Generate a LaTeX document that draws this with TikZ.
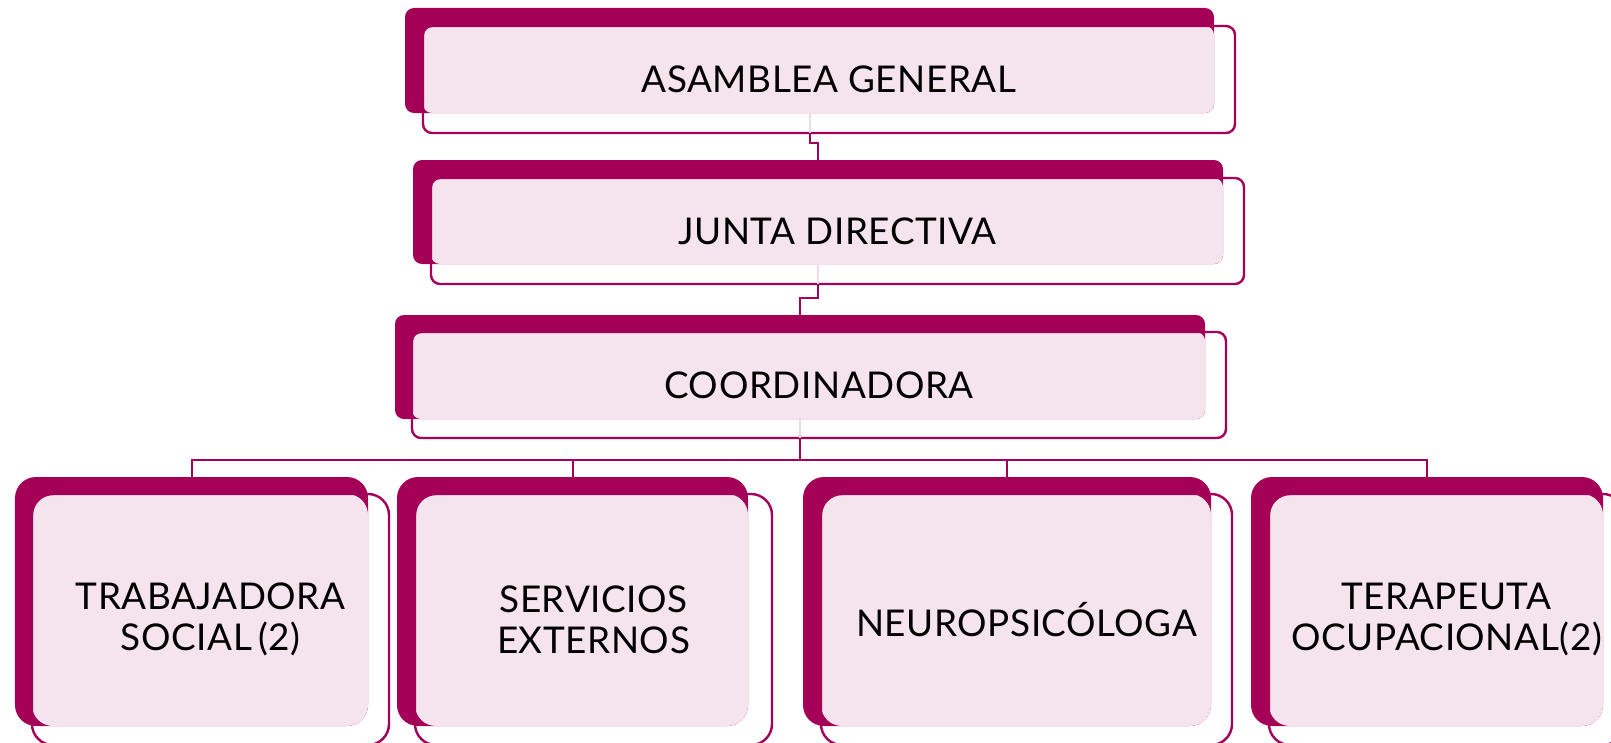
\documentclass[tikz,border=0pt]{standalone}
\usepackage{fontspec}
\setmainfont{Lato}[LetterSpace=1.5]
\definecolor{darkmag}{HTML}{A50058}
\definecolor{pinkfill}{HTML}{F5E4EE}
\definecolor{lightline}{HTML}{F1D9E7}
\tikzset{
  darkbox/.style={fill=darkmag, draw=none, inner sep=0pt, outer sep=0pt, rectangle},
  outbox/.style={draw=darkmag, line width=2.4bp, inner sep=0pt, outer sep=0pt, rectangle, align=center, text=black, font=\fontsize{37}{41}\selectfont},
  conn/.style={draw=darkmag, line width=2bp},
  lconn/.style={draw=lightline, line width=2bp},
}
\begin{document}
\begin{tikzpicture}[x=1bp, y=-1bp]
\useasboundingbox (0,0) rectangle (1611,743);
% ---- top row boxes
\node[darkbox, rounded corners=9bp, minimum width=809bp, minimum height=105bp] (d1) at (809.5,60.5) {};
\fill[pinkfill, rounded corners=9bp] (423,26) rectangle (d1.south east);
\node[outbox, rounded corners=9bp, minimum width=812bp, minimum height=107bp] (o1) at (829,79.5) {ASAMBLEA GENERAL};

\node[darkbox, rounded corners=9bp, minimum width=810bp, minimum height=104bp] (d2) at (818,212) {};
\fill[pinkfill, rounded corners=9bp] (431,178) rectangle (d2.south east);
\node[outbox, rounded corners=9bp, minimum width=813bp, minimum height=106bp] (o2) at (837.5,231) {JUNTA DIRECTIVA};

\node[darkbox, rounded corners=9bp, minimum width=810bp, minimum height=104bp] (d3) at (800,367) {};
\fill[pinkfill, rounded corners=9bp] (412,332) rectangle (d3.south east);
\node[outbox, rounded corners=9bp, minimum width=814bp, minimum height=106bp] (o3) at (819,385) {COORDINADORA};

% ---- bottom row boxes
\node[darkbox, rounded corners=21bp, minimum width=353bp, minimum height=249bp] (b1) at (191.5,601.5) {};
\fill[pinkfill, rounded corners=21bp] (32,494) rectangle (b1.south east);
\node[outbox, rounded corners=21bp, minimum width=357bp, minimum height=251bp] (p1) at (210.5,619.5) {TRABAJADORA\\SOCIAL\,(2)};

\node[darkbox, rounded corners=21bp, minimum width=351bp, minimum height=249bp] (b2) at (572.5,601.5) {};
\fill[pinkfill, rounded corners=21bp] (415,494) rectangle (b2.south east);
\node[outbox, rounded corners=21bp, minimum width=357bp, minimum height=251bp] (p2) at (593.5,619.5) {SERVICIOS\\EXTERNOS};

\node[darkbox, rounded corners=21bp, minimum width=408bp, minimum height=249bp] (b3) at (1007,601.5) {};
\fill[pinkfill, rounded corners=21bp] (821,494) rectangle (b3.south east);
\node[outbox, rounded corners=21bp, minimum width=411bp, minimum height=251bp] (p3) at (1026.5,619.5) {NEUROPSICÓLOGA};

\node[darkbox, rounded corners=21bp, minimum width=352bp, minimum height=249bp] (b4) at (1427,601.5) {};
\fill[pinkfill, rounded corners=21bp] (1269,494) rectangle (b4.south east);
\node[outbox, rounded corners=21bp, minimum width=355bp, minimum height=251bp] (p4) at (1446.5,619.5) {TERAPEUTA\\OCUPACIONAL(2)};

% ---- connectors
\path[lconn] (d1.south) -- (d1.south |- o1.south);
\path[conn] (d1.south |- o1.south) -- ++(0,10) -| (d2.north);
\path[lconn] (d2.south) -- (d2.south |- o2.south);
\path[conn] (d2.south |- o2.south) -- ++(0,14) -| (d3.north);
\path[lconn] (d3.south) -- (d3.south |- o3.south);
\coordinate (bus) at (800,460);
\path[conn] (d3.south |- o3.south) -- (bus);
\path[conn] (b1.north) -- (b1.north |- bus) -- (b4.north |- bus) -- (b4.north);
\path[conn] (b2.north) -- (b2.north |- bus);
\path[conn] (b3.north) -- (b3.north |- bus);
\end{tikzpicture}
\end{document}
